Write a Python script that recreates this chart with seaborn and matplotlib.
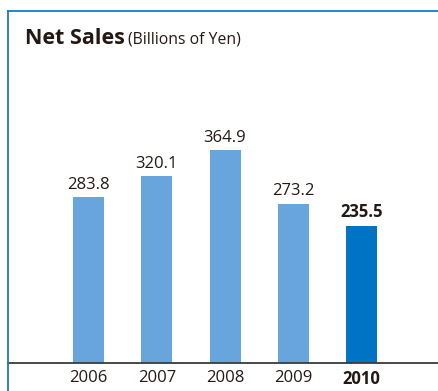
import matplotlib
matplotlib.use("Agg")
import matplotlib.pyplot as plt
from matplotlib.lines import Line2D
import seaborn as sns
import pandas as pd

years = ["2006", "2007", "2008", "2009", "2010"]
net_sales = [283.8, 320.1, 364.9, 273.2, 235.5]
bar_colors = ["#68A5DC", "#68A5DC", "#68A5DC", "#68A5DC", "#0074C4"]

sns.set_theme(style="white")
plt.rcParams["font.family"] = ["Open Sans", "DejaVu Sans"]

text_color = "#231815"
frame_blue = "#1A7AC4"

W, H = 438, 391
fig = plt.figure(figsize=(W / 100, H / 100), dpi=100)
fig.patch.set_facecolor("white")

# axes spans from the left frame line to the right edge, baseline at y=363
left_px, base_px, top_px = 8, 363, 11
ax = fig.add_axes([left_px / W, (H - base_px) / H, 1 - left_px / W, (base_px - top_px) / H])

df = pd.DataFrame({"year": years, "sales": net_sales})
sns.barplot(data=df, x="year", y="sales", hue="year", palette=bar_colors,
            width=0.455, legend=False, ax=ax, saturation=1, linewidth=0)

ax.set_xlim(-1.18, 5.12)
ax.set_ylim(0, 603)
ax.set_xlabel("")
ax.set_ylabel("")
ax.set_yticks([])
ax.tick_params(axis="x", length=0, pad=5, labelsize=12, colors=text_color)
for lbl in ax.get_xticklabels():
    if lbl.get_text() == "2010":
        lbl.set_fontweight("bold")

ax.spines["right"].set_visible(False)
ax.spines["left"].set_visible(False)
ax.spines["top"].set_color(frame_blue)
ax.spines["top"].set_linewidth(1.3)
ax.spines["bottom"].set_color("#3a3a3a")
ax.spines["bottom"].set_linewidth(1.3)

# value labels above each bar
for i, v in enumerate(net_sales):
    ax.text(i, v + 7, f"{v:.1f}", ha="center", va="bottom", fontsize=12,
            color=text_color, fontweight="bold" if years[i] == "2010" else "normal")

# left frame line running from the top border to the bottom edge
fig.add_artist(Line2D([left_px / W, left_px / W], [0, (H - top_px) / H],
                      transform=fig.transFigure, color=frame_blue, linewidth=1.3))

fig.text(25 / W, (H - 44) / H, "Net Sales", fontsize=15.5, fontweight="bold",
         color=text_color, ha="left", va="baseline")
fig.text(128 / W, (H - 44) / H, "(Billions of Yen)", fontsize=11.3, color=text_color,
         ha="left", va="baseline")

fig.savefig("out.png", dpi=100, facecolor="white")
